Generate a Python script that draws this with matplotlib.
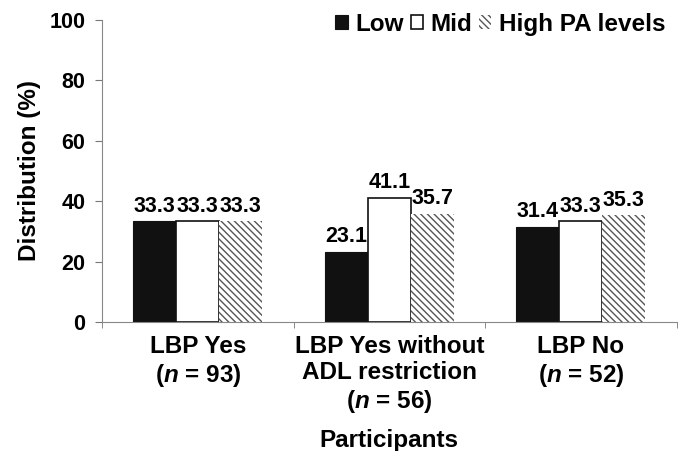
import numpy as np
import matplotlib.pyplot as plt

plt.rcParams['font.family'] = ['Liberation Sans', 'DejaVu Sans']
plt.rcParams['font.weight'] = 'bold'
plt.rcParams['mathtext.fontset'] = 'custom'
plt.rcParams['mathtext.it'] = 'Liberation Sans:italic:bold'
plt.rcParams['mathtext.rm'] = 'Liberation Sans:bold'
plt.rcParams['hatch.linewidth'] = 1.0

# Data
groups = ['LBP Yes\n($\\mathit{n}$ = 93)',
          'LBP Yes without\nADL restriction\n($\\mathit{n}$ = 56)',
          'LBP No\n($\\mathit{n}$ = 52)']
series = ['Low', 'Mid', 'High PA levels']
low = [33.3, 23.1, 31.4]
mid = [33.3, 41.1, 33.3]
high = [33.3, 35.7, 35.3]

fs = 17.5

fig = plt.figure(figsize=(6.89, 4.51), dpi=100)
ax = fig.add_axes([0.148, 0.286, 0.834, 0.670])

x = np.arange(len(groups))
w = 0.225
b1 = ax.bar(x - w, low, w, color='#111111', edgecolor='#111111', linewidth=0.8, label=series[0])
b2 = ax.bar(x, mid, w, color='white', edgecolor='#111111', linewidth=1.2, label=series[1])
b3 = ax.bar(x + w, high, w, color='white', edgecolor='#555555', linewidth=0, hatch='\\\\\\\\\\', label=series[2])

for bars in (b1, b2, b3):
    for r in bars:
        ax.text(r.get_x() + r.get_width() / 2, r.get_height() + 1.6, f'{r.get_height():.1f}',
                ha='center', va='bottom', fontsize=15.5, fontweight='bold')

ax.set_xlim(-0.5, 2.5)
ax.set_ylim(0, 100)
ax.set_yticks(range(0, 101, 20))
ax.set_xticks(x)
ax.set_xticklabels(groups, fontsize=fs, fontweight='bold', linespacing=1.2)
ax.tick_params(axis='x', length=0, pad=9)
ax.set_xticks([-0.5, 0.5, 1.5, 2.5], minor=True)
ax.tick_params(axis='x', which='minor', length=4, color='#777777', direction='out')
ax.tick_params(axis='y', labelsize=15.5, length=5, color='#777777', width=0.8, pad=7)
for lbl in ax.get_yticklabels():
    lbl.set_fontweight('bold')

for s in ('top', 'right'):
    ax.spines[s].set_visible(False)
for s in ('left', 'bottom'):
    ax.spines[s].set_color('#888888')
    ax.spines[s].set_linewidth(0.8)

ax.set_ylabel('Distribution (%)', fontsize=fs, fontweight='bold', labelpad=6)
ax.set_xlabel('Participants', fontsize=fs, fontweight='bold', labelpad=10)

ax.legend(loc='upper right', bbox_to_anchor=(0.997, 1.055), ncol=3, frameon=False,
          fontsize=fs, handlelength=0.5, handleheight=0.5, handletextpad=0.3,
          columnspacing=0.3, borderaxespad=0)

fig.savefig('out.png', dpi=100)
